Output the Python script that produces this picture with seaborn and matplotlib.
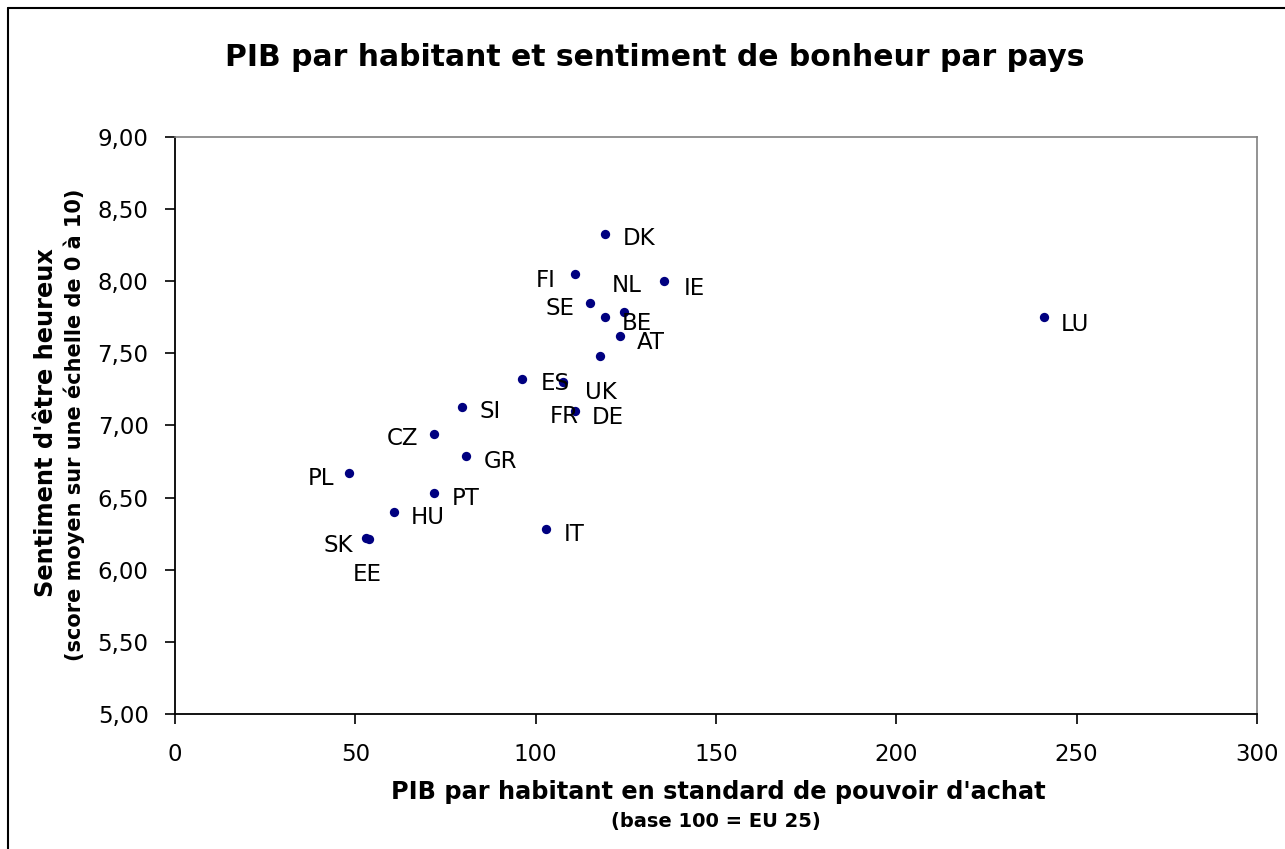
import matplotlib
matplotlib.use("Agg")
import matplotlib.pyplot as plt
import seaborn as sns
import pandas as pd
from matplotlib.lines import Line2D

# ---- data ----
countries = ["DK", "FI", "IE", "SE", "NL", "BE", "AT", "UK", "ES", "FR", "DE",
             "SI", "CZ", "GR", "PL", "PT", "HU", "SK", "EE", "IT", "LU"]
gdp_pps = [119.1, 110.9, 135.7, 115.2, 124.6, 119.1, 123.5, 117.8, 96.3, 107.5, 110.9,
           79.6, 71.9, 80.8, 48.2, 71.9, 60.7, 53.0, 53.9, 102.8, 241.0]
happiness = [8.33, 8.05, 8.00, 7.85, 7.79, 7.75, 7.62, 7.48, 7.32, 7.30, 7.10,
             7.13, 6.94, 6.79, 6.67, 6.53, 6.40, 6.22, 6.21, 6.28, 7.75]

x_ticks = [0, 50, 100, 150, 200, 250, 300]
y_ticks = [5.0, 5.5, 6.0, 6.5, 7.0, 7.5, 8.0, 8.5, 9.0]
y_tick_labels = ["5,00", "5,50", "6,00", "6,50", "7,00", "7,50", "8,00", "8,50", "9,00"]

title = "PIB par habitant et sentiment de bonheur par pays"
xlabel1 = "PIB par habitant en standard de pouvoir d'achat"
xlabel2 = "(base 100 = EU 25)"
ylabel1 = "Sentiment d'être heureux"
ylabel2 = "(score moyen sur une échelle de 0 à 10)"

# label placement (pixels: dx right, dy down, relative to point; text cap-centre)
label_pos = {
    "DK": (18, 3, "left"), "FI": (-19, 4, "right"), "NL": (-13, -28, "left"),
    "IE": (19, 5, "left"), "SE": (-16, 4, "right"), "BE": (17, 4, "left"),
    "AT": (16, 4, "left"), "UK": (-15, 34, "left"), "ES": (18, 2, "left"),
    "FR": (-13, 32, "left"), "DE": (17, 4, "left"), "SI": (17, 3, "left"),
    "CZ": (-16, 2, "right"), "GR": (17, 4, "left"), "PL": (-15, 3, "right"),
    "PT": (17, 3, "left"), "HU": (17, 3, "left"), "SK": (-13, 5, "right"),
    "EE": (-17, 33, "left"), "IT": (18, 3, "left"), "LU": (17, 5, "left"),
}

df = pd.DataFrame({"country": countries, "gdp": gdp_pps, "happy": happiness})

sns.set_theme(style="white")
plt.rcParams["font.family"] = ["DejaVu Sans"]

W, H = 1285, 849
fig = plt.figure(figsize=(W / 100, H / 100), dpi=100)
ax = fig.add_axes([175 / W, 1 - 714 / H, (1257 - 175) / W, (714 - 137) / H])

sns.scatterplot(data=df, x="gdp", y="happy", ax=ax, color="#000080",
                s=45, edgecolor="#000080", linewidth=0, legend=False, zorder=3)

ax.set_xlim(0, 300)
ax.set_ylim(5, 9)
ax.set_xticks(x_ticks)
ax.set_xticklabels([str(t) for t in x_ticks])
ax.set_yticks(y_ticks)
ax.set_yticklabels(y_tick_labels)
ax.tick_params(axis="both", which="both", direction="out", length=7, width=1.2,
               color="black", labelsize=16.5, labelcolor="black",
               left=True, bottom=True)
ax.tick_params(axis="x", pad=14)
ax.tick_params(axis="y", pad=12)
ax.set_xlabel("")
ax.set_ylabel("")
for side in ["left", "bottom"]:
    ax.spines[side].set_color("black")
    ax.spines[side].set_linewidth(1.3)
for side in ["top", "right"]:
    ax.spines[side].set_color("#808080")
    ax.spines[side].set_linewidth(1.2)

cap_half = 8.5
for c, xv, yv in zip(countries, gdp_pps, happiness):
    dx, dy, ha = label_pos[c]
    ax.annotate(c, (xv, yv), xytext=(dx, -(dy + cap_half)), textcoords="offset pixels",
                ha=ha, va="baseline", fontsize=16.5, color="black", zorder=4)

fig.text(655 / W, 1 - 57 / H, title, ha="center", va="center",
         fontsize=21.5, fontweight="bold", color="black")
fig.text(718 / W, 1 - 792 / H, xlabel1, ha="center", va="center",
         fontsize=17.3, fontweight="bold", color="black")
fig.text(716 / W, 1 - 822 / H, xlabel2, ha="center", va="center",
         fontsize=14, fontweight="bold", color="black")
fig.text(46 / W, 1 - 423 / H, ylabel1, ha="center", va="center", rotation=90,
         fontsize=17.3, fontweight="bold", color="black")
fig.text(74 / W, 1 - 425 / H, ylabel2, ha="center", va="center", rotation=90,
         fontsize=15, fontweight="bold", color="black")

# chart-area border (left and top visible in the reference)
fig.add_artist(Line2D([7.5 / W, 7.5 / W], [0, 1 - 8 / H], transform=fig.transFigure,
                      color="black", linewidth=1.5))
fig.add_artist(Line2D([7.5 / W, 1], [1 - 8 / H, 1 - 8 / H], transform=fig.transFigure,
                      color="black", linewidth=1.5))

fig.savefig("out.png", dpi=100, facecolor="white")
